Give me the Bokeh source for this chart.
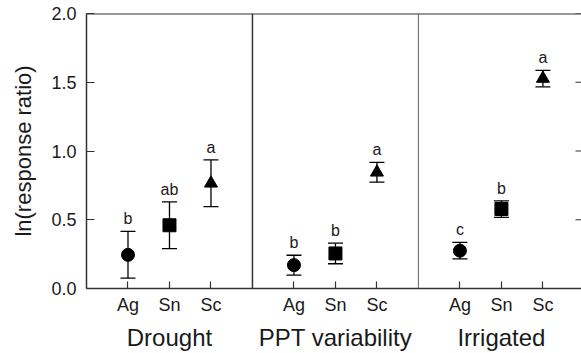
import math
from bokeh.plotting import figure
from bokeh.models import (Range1d, FixedTicker, LinearAxis, Span, Whisker,
                          ColumnDataSource, TeeHead)
from bokeh.embed import file_html
from bokeh.resources import INLINE
from bokeh.core.properties import value

groups = ["Drought", "PPT variability", "Irrigated"]
species = ["Ag", "Sn", "Sc"]
species_markers = ["circle", "square", "triangle"]
means = [0.245, 0.46, 0.765, 0.17, 0.255, 0.845, 0.275, 0.578, 1.527]
errors = [0.17, 0.17, 0.17, 0.072, 0.075, 0.072, 0.06, 0.06, 0.06]
letters = ["b", "ab", "a", "b", "b", "a", "c", "b", "a"]
y_ticks = [0.0, 0.5, 1.0, 1.5, 2.0]

FONT = "Liberation Sans"
INK = "#1a1a1a"
X_END = 11.93

# categorical layout: each group occupies 4 slots
xs, mk = [], []
for gi, g in enumerate(groups):
    for si, s in enumerate(species):
        xs.append(gi * 4 + si + 1)
        mk.append(species_markers[si])
group_centers = [gi * 4 + 2 for gi in range(len(groups))]
dividers = [gi * 4 for gi in range(1, len(groups))]

src = ColumnDataSource(dict(
    x=xs, y=means,
    upper=[m + e for m, e in zip(means, errors)],
    lower=[m - e for m, e in zip(means, errors)],
    marker=mk, letter=letters,
))

p = figure(width=581, height=353, output_backend="svg", toolbar_location=None,
           x_range=Range1d(0, X_END), y_range=Range1d(0, 2.0),
           min_border_left=86, min_border_top=13, min_border_right=0,
           min_border_bottom=63)
p.outline_line_color = None
p.xgrid.visible = False
p.ygrid.visible = False
p.background_fill_color = "white"
p.border_fill_color = "white"

# left axis
ya = p.yaxis[0]
ya.ticker = FixedTicker(ticks=y_ticks)
ya.major_label_overrides = {t: f"{t:.1f}" for t in y_ticks}
ya.major_tick_in = 8
ya.major_tick_out = 0
ya.minor_tick_line_color = None
ya.axis_line_color = "#333333"
ya.axis_line_width = 1.5
ya.major_tick_line_color = "#333333"
ya.major_tick_line_width = 1.2
ya.major_label_text_font = FONT
ya.major_label_text_font_size = "18px"
ya.major_label_text_color = INK
ya.major_label_standoff = 10
ya.axis_label = "ln(response ratio)"
ya.axis_label_text_font = FONT
ya.axis_label_text_font_size = "22px"
ya.axis_label_text_font_style = "normal"
ya.axis_label_text_color = INK
ya.axis_label_standoff = 12

# bottom axis (species)
xa = p.xaxis[0]
xa.ticker = FixedTicker(ticks=xs)
xa.major_label_overrides = {x: species[i % 3] for i, x in enumerate(xs)}
xa.major_tick_in = 7
xa.major_tick_out = 0
xa.minor_tick_line_color = None
xa.axis_line_color = "#333333"
xa.axis_line_width = 1.5
xa.major_tick_line_color = "#333333"
xa.major_tick_line_width = 1.2
xa.major_label_text_font = FONT
xa.major_label_text_font_size = "18px"
xa.major_label_text_color = INK
xa.major_label_standoff = 6

# second bottom axis (groups)
ga = LinearAxis(ticker=FixedTicker(ticks=group_centers),
                major_label_overrides={c: groups[i] for i, c in enumerate(group_centers)},
                axis_line_color=None, major_tick_line_color=None,
                minor_tick_line_color=None,
                major_label_text_font=FONT, major_label_text_font_size="24px",
                major_label_text_color=INK, major_label_standoff=0)
p.add_layout(ga, "below")

# right-edge inward ticks
p.ray(x=[X_END] * len(y_ticks), y=y_ticks, length=6, length_units="screen",
      angle=math.pi, line_color="#333333", line_width=1.2)

# top border
p.add_layout(Span(location=2.0, dimension="width", line_color="#333333", line_width=2))
# group dividers
p.add_layout(Span(location=dividers[0], dimension="height", line_color="#333333", line_width=1.5))
p.add_layout(Span(location=dividers[1], dimension="height", line_color="#777777", line_width=1.2))

# error bars
p.add_layout(Whisker(base="x", upper="upper", lower="lower", source=src,
                     line_color="black", line_width=1.3,
                     upper_head=TeeHead(size=15, line_color="black", line_width=1.3),
                     lower_head=TeeHead(size=15, line_color="black", line_width=1.3)))

p.scatter(x="x", y="y", marker="marker", size=13, source=src,
          fill_color="black", line_color="black")

p.text(x="x", y="upper", text="letter", source=src, text_align="center",
       text_baseline="bottom", y_offset=-4, text_font=value(FONT),
       text_font_size="16px", text_color=INK)

open("out.html", "w").write(file_html(p, INLINE))
